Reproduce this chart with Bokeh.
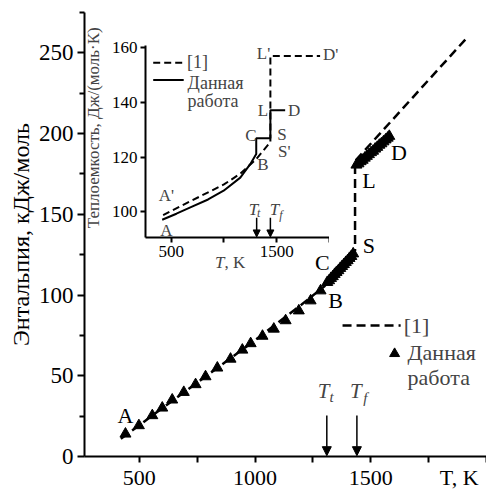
import math
from bokeh.plotting import figure
from bokeh.models import Range1d, FixedTicker, Label, Arrow, NormalHead
from bokeh.layouts import column
from bokeh.embed import file_html
from bokeh.resources import INLINE

# ---------------- data: main chart (enthalpy, kJ/mol) ----------------
work_T = [440, 498, 556, 599, 642, 692, 743, 786, 837, 894, 945, 981, 1032, 1081, 1132, 1189, 1240, 1283,
          1312, 1320, 1328, 1336, 1344, 1352, 1360, 1368, 1376, 1384, 1392, 1400, 1408, 1416, 1424,
          1438, 1447, 1456, 1465, 1474, 1483, 1492, 1501, 1510, 1519, 1528, 1537, 1546, 1555, 1564, 1573, 1580]
work_H = [14.0, 19.2, 25.4, 30.1, 35.1, 39.8, 44.6, 49.5, 54.9, 60.4, 66.0, 70.0, 74.6, 79.0, 84.2, 90.3, 96.5, 102.7,
          107.9, 109.0, 110.4, 111.5, 112.9, 114.1, 115.2, 116.6, 117.8, 119.0, 120.3, 121.4, 122.8, 124.0, 125.6,
          180.6, 181.4, 182.7, 183.6, 184.9, 186.0, 187.1, 188.3, 189.2, 190.5, 191.6, 192.9, 193.8, 195.0, 196.2, 197.3, 198.4]
ref_T = [420, 700, 1000, 1200, 1300, 1432, 1432, 1910]
ref_H = [11.0, 40.5, 72.0, 94.0, 105.5, 127.5, 183.0, 258.5]

# transition temperatures
T_t = 1310
T_f = 1440

# ---------------- data: inset (heat capacity, J/(mol K)) ----------------
cp_ref_T = [424, 700, 1000, 1150, 1300, 1440, 1440, 1911]
cp_ref_C = [98.8, 104.2, 110.0, 113.8, 119.0, 125.5, 157.0, 157.0]
cp_work_T = [415, 550, 682, 850, 997, 1155, 1249, 1306, 1306, 1440, 1440, 1580]
cp_work_C = [97.1, 99.3, 101.6, 104.5, 107.7, 112.5, 117.4, 121.1, 126.9, 126.9, 137.1, 137.1]

# main x axis: labelled positions (last one carries the axis title) and tick marks
main_xlabels = {500: "500", 1000: "1000", 1500: "1500", 1882: "T, K"}
main_xmarks = [500, 750, 1000, 1250, 1500, 1750, 2000]
main_yticks = [0, 50, 100, 150, 200, 250]
main_yminor = [25, 75, 125, 175, 225, 275]
inset_xticks = [500, 1000, 1500, 2000]
inset_yticks = [100, 120, 140, 160]

SERIF = "Liberation Serif"

# ---------------- main figure ----------------
p = figure(width=486, height=492, output_backend="svg", toolbar_location=None,
           x_range=Range1d(263, 2000), y_range=Range1d(0, 275),
           min_border_left=84, min_border_right=0, min_border_top=12, min_border_bottom=36)
p.outline_line_color = None
p.xgrid.visible = False
p.ygrid.visible = False
p.background_fill_color = "white"
p.border_fill_color = "white"

for ax in (p.xaxis[0], p.yaxis[0]):
    ax.axis_line_width = 2
    ax.axis_line_color = "black"
    ax.major_tick_line_width = 2
    ax.minor_tick_line_width = 2
    ax.major_tick_line_color = "black"
    ax.minor_tick_line_color = "black"
    ax.major_tick_in = 0
    ax.minor_tick_in = 0
    ax.major_label_text_font = SERIF
    ax.major_label_text_font_size = "22px"
    ax.major_label_text_color = "black"

p.xaxis.ticker = FixedTicker(ticks=list(main_xlabels.keys()), minor_ticks=main_xmarks)
p.xaxis.major_label_overrides = main_xlabels
p.xaxis.major_tick_out = 0
p.xaxis.minor_tick_out = 6
p.xaxis.major_label_standoff = 2
p.yaxis.ticker = FixedTicker(ticks=main_yticks, minor_ticks=main_yminor)
p.yaxis.major_tick_out = 7
p.yaxis.minor_tick_out = 5
p.yaxis.major_label_standoff = 4
p.yaxis.major_label_text_font_size = "23px"
p.yaxis.axis_label = "Энтальпия, кДж/моль"
p.yaxis.axis_label_text_font = SERIF
p.yaxis.axis_label_text_font_style = "normal"
p.yaxis.axis_label_text_font_size = "24px"
p.yaxis.axis_label_text_color = "black"
p.yaxis.axis_label_standoff = 2

# reference [1] dashed
p.line(ref_T, ref_H, line_color="black", line_width=2.5, line_dash="9 5")
# this work triangles
p.scatter(work_T, work_H, marker="triangle", size=11, fill_color="black", line_color="black")

# letters
for txt, x, y in [("A", 440, 25.4), ("B", 1348, 96.5), ("C", 1291, 120.2), ("S", 1492, 130.6),
                  ("L", 1492, 170.8), ("D", 1622, 188.3)]:
    p.add_layout(Label(x=x, y=y, text=txt, text_font=SERIF, text_font_size="22px",
                       text_align="center", text_baseline="middle", text_color="black"))

# legend (main)
p.line([1378, 1629], [81.1, 81.1], line_color="black", line_width=2.5, line_dash="9 5")
p.add_layout(Label(x=1642, y=81.1, text="[1]", text_font=SERIF, text_font_size="22px",
                   text_align="left", text_baseline="middle"))
p.scatter([1603], [63.7], marker="triangle", size=10, fill_color="black", line_color="black")
p.add_layout(Label(x=1659, y=64.4, text="Данная", text_font=SERIF, text_font_size="22px",
                   text_align="left", text_baseline="middle"))
p.add_layout(Label(x=1659, y=48.9, text="работа", text_font=SERIF, text_font_size="22px",
                   text_align="left", text_baseline="middle"))

# transition arrows (main)
for tt in (T_t, T_f):
    p.add_layout(Arrow(x_start=tt, y_start=25.4, x_end=tt, y_end=0.5, line_width=1.5,
                       end=NormalHead(size=9, fill_color="black", line_color="black")))
p.add_layout(Label(x=1296, y=40.8, text="T", text_font=SERIF, text_font_style="italic",
                   text_font_size="21px", text_align="center", text_baseline="middle"))
p.add_layout(Label(x=1331, y=37.0, text="t", text_font=SERIF, text_font_style="italic",
                   text_font_size="15px", text_align="center", text_baseline="middle"))
p.add_layout(Label(x=1435, y=40.8, text="T", text_font=SERIF, text_font_style="italic",
                   text_font_size="21px", text_align="center", text_baseline="middle"))
p.add_layout(Label(x=1476, y=36.5, text="f", text_font=SERIF, text_font_style="italic",
                   text_font_size="15px", text_align="center", text_baseline="middle"))

# inset texts that lie in the main frame area (inset y title, inset x title, D')
p.add_layout(Label(x=302, y=203.6, text="Теплоемкость, Дж/(моль·К)",
                   text_font=SERIF, text_font_size="17px", angle=math.pi / 2,
                   text_align="center", text_baseline="middle"))
p.add_layout(Label(x=1327, y=248.8, text="D'", text_font=SERIF, text_font_size="17px",
                   text_align="center", text_baseline="middle"))
p.add_layout(Label(x=868, y=120.0, text="T", text_font=SERIF, text_font_style="italic",
                   text_font_size="17px", text_align="right", text_baseline="middle"))
p.add_layout(Label(x=868, y=120.0, text=", K", text_font=SERIF,
                   text_font_size="17px", text_align="left", text_baseline="middle"))

# ---------------- inset figure ----------------
q = figure(width=268, height=244, output_backend="svg", toolbar_location=None,
           x_range=Range1d(257, 2000), y_range=Range1d(90.6, 160.8),
           min_border_left=84, min_border_right=0, min_border_top=12, min_border_bottom=40)
q.outline_line_color = None
q.xgrid.visible = False
q.ygrid.visible = False
q.background_fill_color = None
q.border_fill_color = None
q.background_fill_alpha = 0
q.border_fill_alpha = 0
for ax in (q.xaxis[0], q.yaxis[0]):
    ax.axis_line_width = 2
    ax.major_tick_line_width = 2
    ax.major_tick_in = 0
    ax.major_tick_out = 5
    ax.minor_tick_line_color = None
    ax.major_label_text_font = SERIF
    ax.major_label_text_font_size = "17px"
    ax.major_label_text_color = "black"
    ax.major_label_standoff = 3
q.xaxis.ticker = FixedTicker(ticks=inset_xticks)
q.xaxis.major_label_overrides = {1000: "", 2000: ""}
q.yaxis.ticker = FixedTicker(ticks=inset_yticks)

q.line(cp_ref_T, cp_ref_C, line_color="black", line_width=2, line_dash="7 4")
q.line(cp_work_T, cp_work_C, line_color="black", line_width=2)

# inset legend
q.line([330, 619], [154.5, 154.5], line_color="black", line_width=2, line_dash="7 4")
q.line([330, 619], [148.2, 148.2], line_color="black", line_width=2)
q.add_layout(Label(x=651, y=154.9, text="[1]", text_font=SERIF, text_font_size="18px",
                   text_align="left", text_baseline="middle"))
q.add_layout(Label(x=656, y=147.2, text="Данная", text_font=SERIF, text_font_size="18px",
                   text_align="left", text_baseline="middle"))
q.add_layout(Label(x=656, y=140.5, text="работа", text_font=SERIF, text_font_size="18px",
                   text_align="left", text_baseline="middle"))

for txt, x, y in [("L'", 1375, 157.8), ("L", 1370, 137.1), ("D", 1665, 137.1),
                  ("C", 1256, 127.8), ("S", 1549, 128.4), ("S'", 1571, 122.0), ("B", 1370, 117.2),
                  ("A'", 455, 105.8), ("A", 455, 93.1)]:
    q.add_layout(Label(x=x, y=y, text=txt, text_font=SERIF, text_font_size="17px",
                       text_align="center", text_baseline="middle"))

for tt in (T_t, T_f):
    q.add_layout(Arrow(x_start=tt, y_start=97.8, x_end=tt, y_end=90.8, line_width=1.5,
                       end=NormalHead(size=7, fill_color="black", line_color="black")))
q.add_layout(Label(x=1280, y=101.0, text="T", text_font=SERIF, text_font_style="italic",
                   text_font_size="17px", text_align="center", text_baseline="middle"))
q.add_layout(Label(x=1329, y=99.4, text="t", text_font=SERIF, text_font_style="italic",
                   text_font_size="12px", text_align="center", text_baseline="middle"))
q.add_layout(Label(x=1479, y=101.0, text="T", text_font=SERIF, text_font_style="italic",
                   text_font_size="17px", text_align="center", text_baseline="middle"))
q.add_layout(Label(x=1540, y=98.9, text="f", text_font=SERIF, text_font_style="italic",
                   text_font_size="12px", text_align="center", text_baseline="middle"))

q.styles = {"position": "absolute", "left": "61px", "top": "33px"}
layout = column(p, q)
layout.styles = {"position": "relative"}

open("out.html", "w").write(file_html(layout, INLINE))
